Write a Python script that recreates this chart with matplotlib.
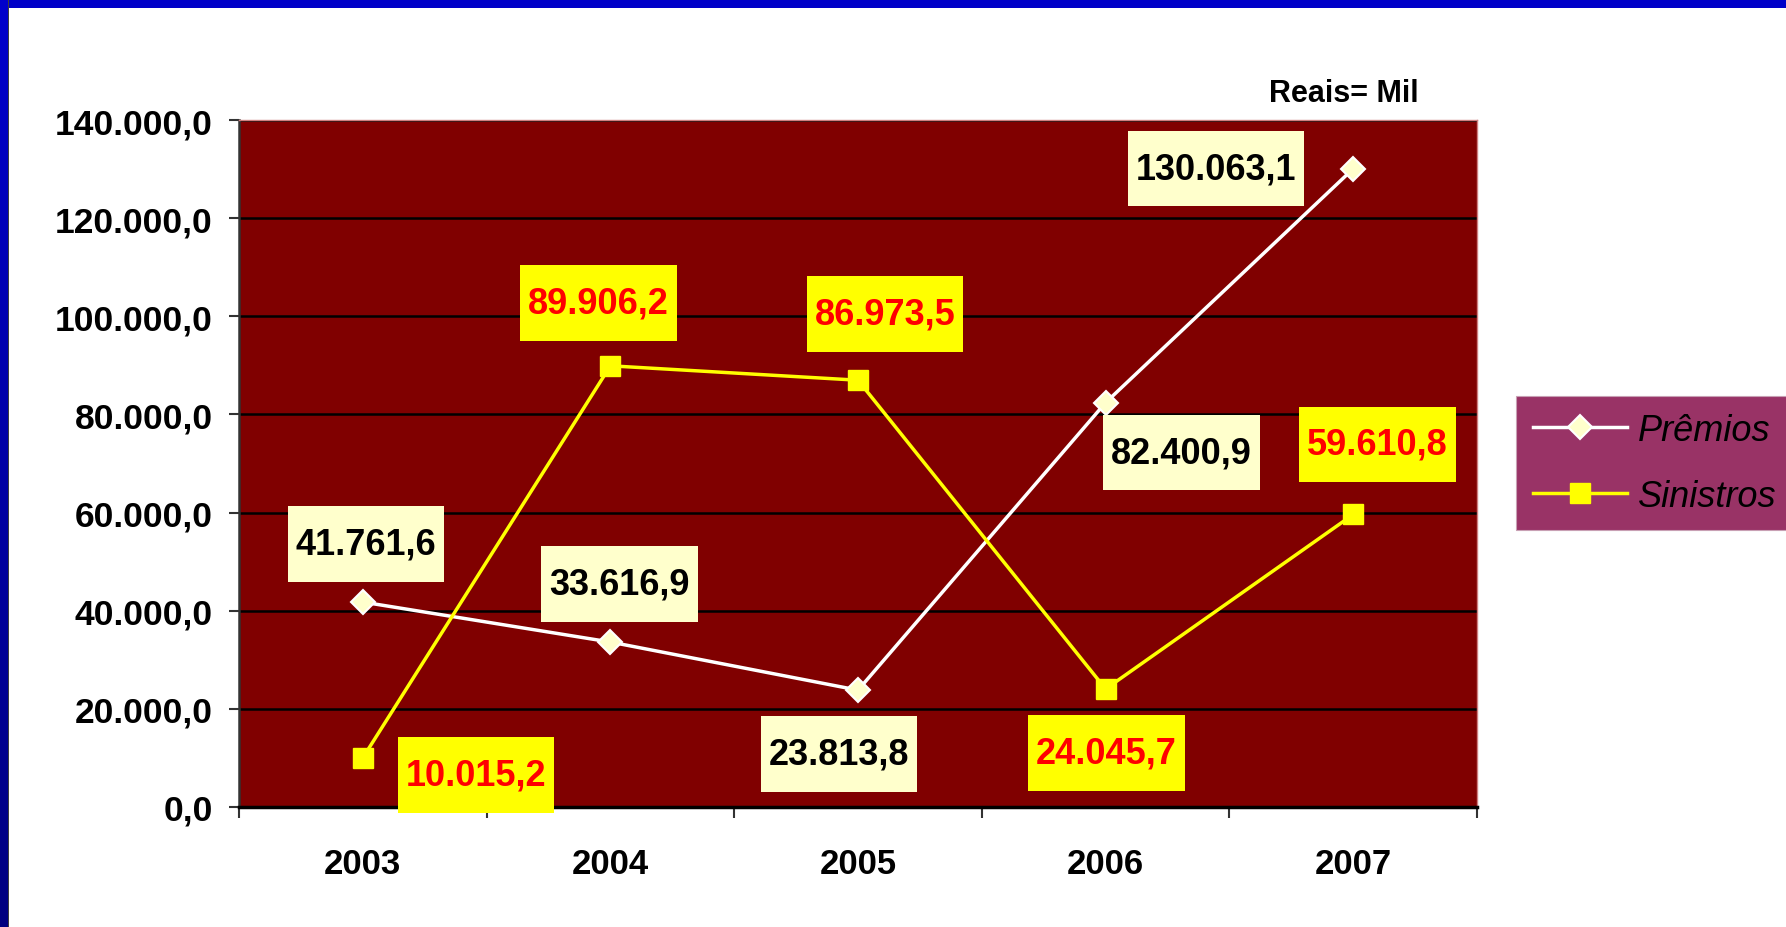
import matplotlib
matplotlib.use("Agg")
import matplotlib.pyplot as plt
import numpy as np
from matplotlib.path import Path
from matplotlib.ticker import FuncFormatter

years = ["2003", "2004", "2005", "2006", "2007"]
premios = [41761.6, 33616.9, 23813.8, 82400.9, 130063.1]
sinistros = [10015.2, 89906.2, 86973.5, 24045.7, 59610.8]

# label offsets from each point, in pixels
premios_offsets = [(3, 58), (9, 58), (-19, -64), (76, -50), (-137, 0)]
sinistros_offsets = [(113, -17), (-12, 63), (27, 66), (1, -64), (24, 70)]

PLOT_BG = "#800000"
PREMIOS_BOX = "#FFFFCC"
SINISTROS_BOX = "#FFFF00"
LEGEND_BG = "#993366"

plt.rcParams["font.family"] = ["Liberation Sans", "DejaVu Sans"]


def br(v):
    s = f"{v:,.1f}"
    return s.replace(",", "X").replace(".", ",").replace("X", ".")


def label_box(x0, y0, width, height, mutation_size):
    # wider vertical padding than horizontal, like spreadsheet data labels
    px = 0.22 * mutation_size
    py = 0.56 * mutation_size
    xa, ya = x0 - px, y0 - py
    xb, yb = x0 + width + px, y0 + height + py
    return Path([(xa, ya), (xb, ya), (xb, yb), (xa, yb), (xa, ya)], closed=True)


W, H = 1786, 928
fig = plt.figure(figsize=(W / 100, H / 100), dpi=100, facecolor="white")
ax = fig.add_axes([239 / W, 1 - 808 / H, (1477 - 239) / W, (808 - 121) / H])
ax.set_facecolor(PLOT_BG)

x = np.arange(len(years))
ln_p, = ax.plot(x, premios, color="white", lw=2.5, marker="D", ms=12,
                mfc=PREMIOS_BOX, mec="white", mew=1.5, zorder=3,
                label="Prêmios")
ln_s, = ax.plot(x, sinistros, color="#FFFF00", lw=2.5, marker="s", ms=14.5,
                mfc="#FFFF00", mec="#FFFF00", zorder=3, label="Sinistros")

for xi, v, off in zip(x, premios, premios_offsets):
    ax.annotate(br(v), (xi, v), xytext=off, textcoords="offset pixels",
                ha="center", va="center", fontsize=26, fontweight="bold",
                color="black", zorder=6,
                bbox=dict(boxstyle=label_box, fc=PREMIOS_BOX, ec="none"))
for xi, v, off in zip(x, sinistros, sinistros_offsets):
    ax.annotate(br(v), (xi, v), xytext=off, textcoords="offset pixels",
                ha="center", va="center", fontsize=26, fontweight="bold",
                color="#FF0000", zorder=6,
                bbox=dict(boxstyle=label_box, fc=SINISTROS_BOX, ec="none"))

ax.set_xlim(-0.5, len(years) - 0.5)
ax.set_ylim(0, 140000)
ax.set_yticks(np.arange(0, 140001, 20000))
ax.yaxis.set_major_formatter(FuncFormatter(lambda v, _: br(v)))
ax.grid(True, axis="y", color="black", lw=1.8, zorder=1)
ax.set_axisbelow(True)

ax.set_xticks(np.arange(-0.5, len(years)), labels=[""] * (len(years) + 1))
ax.set_xticks(x, labels=years, minor=True)
ax.tick_params(axis="x", which="major", direction="out", length=8, width=1.5,
               color="#333333")
ax.tick_params(axis="x", which="minor", length=0, pad=29, labelsize=25)
ax.tick_params(axis="y", direction="out", length=7, width=1.5,
               color="#333333", pad=12, labelsize=25.5)
for lab in ax.get_xticklabels(minor=True) + ax.get_yticklabels():
    lab.set_fontweight("bold")

ax.spines["left"].set_color("#333333")
ax.spines["left"].set_linewidth(1.8)
ax.spines["bottom"].set_color("black")
ax.spines["bottom"].set_linewidth(2.5)
for side in ("top", "right"):
    ax.spines[side].set_color("#D08080")
    ax.spines[side].set_linewidth(1.0)

fig.text(1344 / W, 1 - 94 / H, "Reais= Mil", ha="center", va="center",
         fontsize=22, fontweight="bold")

leg = fig.legend(handles=[ln_p, ln_s], loc="upper left",
                 bbox_to_anchor=(1516 / W, 1 - 397 / H), borderaxespad=0,
                 prop=dict(size=26, style="italic"), handlelength=2.6,
                 handletextpad=0.32, labelspacing=0.86, borderpad=0.46,
                 fancybox=False, framealpha=1)
leg.get_frame().set_facecolor(LEGEND_BG)
leg.get_frame().set_edgecolor("#C8A0B4")
leg.get_frame().set_linewidth(0.8)

# slide frame: blue band on top, darkening band on the left
top_band = np.zeros((9, W, 3))
top_band[:, :, 2] = 200 / 255
fig.figimage(top_band, xo=0, yo=H - 9, zorder=10)
left_band = np.zeros((H, 9, 3))
left_band[:, :, 2] = np.linspace(204, 128, H)[:, None] / 255
left_band[:, 8, :] = 0.25
fig.figimage(left_band, xo=0, yo=0, zorder=10)

fig.savefig("out.png", dpi=100)
